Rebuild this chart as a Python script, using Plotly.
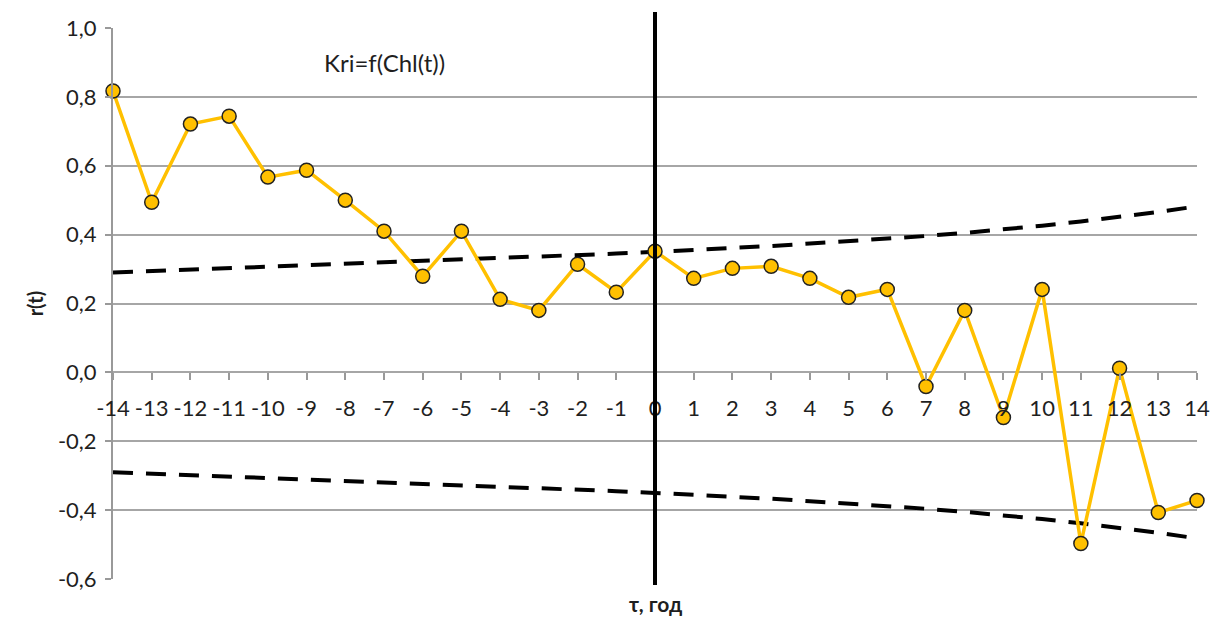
import plotly.graph_objects as go

tau = list(range(-14, 15))
r_values = [0.817, 0.494, 0.721, 0.744, 0.567, 0.587, 0.500, 0.410, 0.279, 0.410,
            0.212, 0.180, 0.314, 0.233, 0.352, 0.273, 0.302, 0.308, 0.273, 0.218,
            0.241, -0.041, 0.180, -0.131, 0.241, -0.497, 0.012, -0.407, -0.372]
upper_bound = [0.290, 0.294, 0.299, 0.304, 0.308, 0.312, 0.316, 0.320, 0.324, 0.328,
               0.332, 0.336, 0.340, 0.345, 0.350, 0.355, 0.361, 0.367, 0.374, 0.381,
               0.388, 0.396, 0.405, 0.415, 0.426, 0.438, 0.451, 0.466, 0.482]
lower_bound = [-0.290, -0.294, -0.299, -0.304, -0.308, -0.312, -0.316, -0.320, -0.324, -0.328,
               -0.332, -0.336, -0.340, -0.345, -0.350, -0.355, -0.361, -0.367, -0.374, -0.381,
               -0.388, -0.396, -0.405, -0.415, -0.426, -0.438, -0.451, -0.466, -0.482]
y_ticks = [1.0, 0.8, 0.6, 0.4, 0.2, 0.0, -0.2, -0.4, -0.6]
y_tick_text = ["1,0", "0,8", "0,6", "0,4", "0,2", "0,0", "-0,2", "-0,4", "-0,6"]
x_tick_text = [str(t) for t in tau]

FONT = "Lato"
TXT = "#1f1f1f"

fig = go.Figure()
fig.add_trace(go.Scatter(x=tau, y=upper_bound, mode="lines",
                         line=dict(color="black", width=4, dash="20px,13px"),
                         hoverinfo="skip", showlegend=False))
fig.add_trace(go.Scatter(x=tau, y=lower_bound, mode="lines",
                         line=dict(color="black", width=4, dash="20px,13px"),
                         hoverinfo="skip", showlegend=False))
fig.add_trace(go.Scatter(x=tau, y=r_values, mode="lines+markers",
                         line=dict(color="#FFC000", width=3.5),
                         marker=dict(size=14, color="#FFC000",
                                     line=dict(color="#222222", width=1.5)),
                         cliponaxis=False, showlegend=False))

fig.add_shape(type="line", xref="x", yref="paper", x0=0, x1=0, y0=-0.011, y1=1.029,
              line=dict(color="black", width=4), layer="above")

fig.add_annotation(text="Kri=f(Chl(t))", xref="x", yref="y", x=-7.0, y=0.9,
                   showarrow=False, font=dict(family=FONT, size=24, color=TXT))
fig.add_annotation(text="<b>τ, год</b>", xref="x", yref="paper", x=0, y=-0.044,
                   yanchor="middle", showarrow=False,
                   font=dict(family=FONT, size=21, color=TXT))
fig.add_annotation(text="<b>r(t)</b>", xref="paper", yref="paper", x=-0.085, y=0.5,
                   textangle=-90, showarrow=False,
                   font=dict(family=FONT, size=20, color=TXT))

fig.update_layout(
    width=1224, height=617,
    margin=dict(l=113, r=27, t=28, b=38),
    paper_bgcolor="white", plot_bgcolor="white",
    font=dict(family=FONT, size=22, color=TXT),
    xaxis=dict(range=[-14, 14], tickmode="array", tickvals=tau, ticktext=x_tick_text,
               showgrid=False, zeroline=False, showline=False,
               anchor="free", position=0.375, side="bottom",
               ticks="outside", ticklen=7, tickcolor="#999999", tickwidth=1.5,
               ticklabelstandoff=9,
               tickfont=dict(family=FONT, size=22, color=TXT)),
    yaxis=dict(range=[-0.6, 1.0], tickmode="array", tickvals=y_ticks, ticktext=y_tick_text,
               showgrid=True, gridcolor="#A6A6A6", gridwidth=1.5, zeroline=False,
               showline=True, linecolor="#999999", linewidth=2,
               ticks="outside", ticklen=6, tickcolor="#999999", tickwidth=1.5,
               ticklabelstandoff=4,
               tickfont=dict(family=FONT, size=22, color=TXT)),
)

fig.write_html("out.html")
